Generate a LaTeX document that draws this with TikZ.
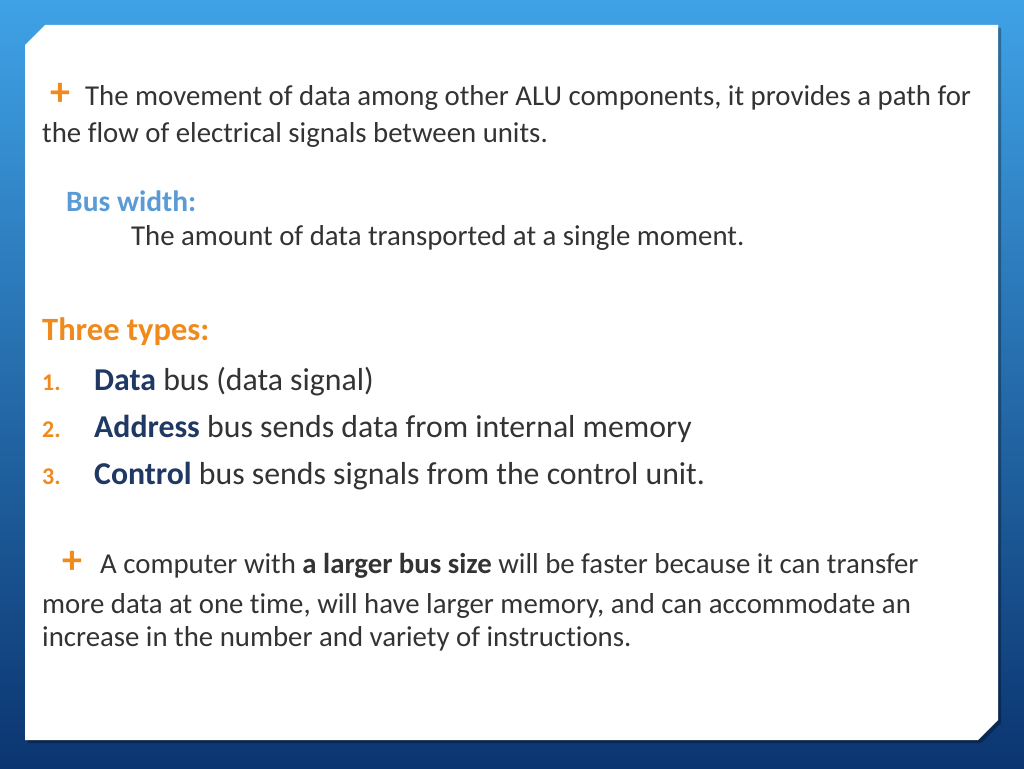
\documentclass[tikz,border=0pt]{standalone}
\usepackage{fontspec}
\setmainfont{Carlito}[Ligatures=NoCommon]
\definecolor{bgtop}{HTML}{3FA2E6}
\definecolor{bgbot}{HTML}{0B3570}
\definecolor{orng}{HTML}{F08A1C}
\definecolor{bluet}{HTML}{5B9BD5}
\definecolor{navy}{HTML}{1F3864}
\definecolor{txt}{HTML}{333333}
\tikzset{t/.style={anchor=base west,inner sep=0pt,text=txt,font=\fontsize{28.8}{30}\selectfont},
 it/.style={anchor=base west,inner sep=0pt,text=txt,font=\fontsize{31.8}{32}\selectfont},
 num/.style={anchor=base west,inner sep=0pt,text=orng,font=\bfseries\fontsize{24}{24}\selectfont},
 plus/.style={anchor=base west,inner sep=0pt,text=orng,font=\bfseries\fontsize{40}{40}\selectfont}}
\begin{document}
\begin{tikzpicture}[x=1pt,y=-1pt]
\useasboundingbox (0,0) rectangle (1024,768);
\shade[top color=bgtop,bottom color=bgbot] (0,0) rectangle (1024,768);
\fill[black,opacity=0.3] (28,48)--(48,28)--(1001,28)--(1001,723)--(981,743)--(28,743)--cycle;
\fill[white] (25,45)--(45,25)--(998,25)--(998,720)--(978,740)--(25,740)--cycle;
\node[plus] (p1) at (50,105) {+};
\node[t] (l1) at (85,105) {The movement of data among other ALU components, it provides a path for};
\node[t] (l2) at (42,142) {the flow of electrical signals between units.};
\node[t,text=bluet,font=\bfseries\fontsize{29.5}{30}\selectfont] (bw) at (66,211) {Bus width:};
\node[t] (bwd) at (131,245) {The amount of data transported at a single moment.};
\node[t,text=orng,font=\bfseries\fontsize{32.5}{32}\selectfont] (tt) at (42,340) {Three types:};
\node[num] (n1) at (42,390) {1.};
\node[it] (i1) at (94,390) {\textbf{\color{navy}Data} bus (data signal)};
\node[num] (n2) at (42,437) {2.};
\node[it] (i2) at (94,437) {\textbf{\color{navy}Address} bus sends data from internal memory};
\node[num] (n3) at (42,484) {3.};
\node[it] (i3) at (94,484) {\textbf{\color{navy}Control} bus sends signals from the control unit.};
\node[plus] (p2) at (62,573) {+};
\node[t] (m1) at (100,573) {A computer with \textbf{a larger bus size} will be faster because it can transfer};
\node[t] (m2) at (42,613) {more data at one time, will have larger memory, and can accommodate an};
\node[t] (m3) at (42,646) {increase in the number and variety of instructions.};
\end{tikzpicture}
\end{document}
